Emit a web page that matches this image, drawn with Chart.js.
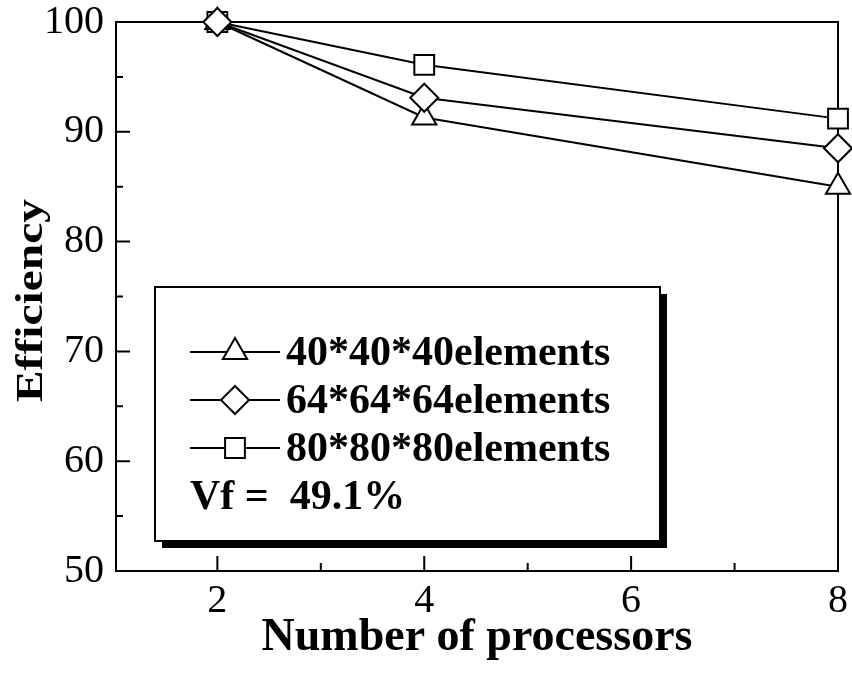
<!DOCTYPE html>
<html>
<head>
<meta charset="utf-8">
<script src="https://cdn.jsdelivr.net/npm/chart.js@4.4.1/dist/chart.umd.min.js"></script>
<style>
  html, body { margin: 0; padding: 0; background: #fff; }
  #wrap { width: 852px; height: 679px; }
</style>
</head>
<body>
<div id="wrap"><canvas id="effChart" width="852" height="679"></canvas></div>
<script>
// Parallel efficiency (%) per mesh size
const processors = [2, 4, 8];
const eff40 = [100, 91.3, 85.0];
const eff64 = [100, 93.1, 88.5];
const eff80 = [100, 96.1, 91.2];
const seriesLabels = ["40*40*40elements", "64*64*64elements", "80*80*80elements"];
const seriesStyles = ["triangle", "rectRot", "rect"];
const noteText = "Vf =  49.1%";
const yTitle = "Efficiency";
const xTitle = "Number of processors";

// Axis ticks
const xTicks = [2, 4, 6, 8];
const xMinorTicks = [3, 5, 7];
const yTicks = [50, 60, 70, 80, 90, 100];
const yMinorTicks = [55, 65, 75, 85, 95];

const SERIF = "'Liberation Serif', 'Times New Roman', serif";

function toPoints(ys) {
    return processors.map((p, i) => ({ x: p, y: ys[i] }));
}

function makeDataset(label, ys, style, order) {
    return {
        label: label,
        data: toPoints(ys),
        borderColor: "#000",
        borderWidth: 2,
        backgroundColor: "#fff",
        pointStyle: style,
        pointRadius: 14,
        pointBorderWidth: 2,
        pointBackgroundColor: "#fff",
        pointBorderColor: "#000",
        tension: 0,
        clip: false,
        order: order
    };
}

// Box around the plot plus inward tick marks
const frameTicks = {
    id: "frameTicks",
    beforeDatasetsDraw(chart) {
        const { ctx, chartArea: a, scales } = chart;
        ctx.save();
        ctx.strokeStyle = "#000";
        ctx.lineWidth = 2;
        ctx.strokeRect(a.left, a.top, a.right - a.left, a.bottom - a.top);
        ctx.beginPath();
        yTicks.forEach(v => {
            const y = scales.y.getPixelForValue(v);
            ctx.moveTo(a.left, y); ctx.lineTo(a.left + 14, y);
        });
        yMinorTicks.forEach(v => {
            const y = scales.y.getPixelForValue(v);
            ctx.moveTo(a.left, y); ctx.lineTo(a.left + 7, y);
        });
        xTicks.slice(0, 3).forEach(v => {
            const x = scales.x.getPixelForValue(v);
            ctx.moveTo(x, a.bottom); ctx.lineTo(x, a.bottom - 15);
        });
        xMinorTicks.forEach(v => {
            const x = scales.x.getPixelForValue(v);
            ctx.moveTo(x, a.bottom); ctx.lineTo(x, a.bottom - 8);
        });
        ctx.stroke();

        // vertical axis title, set a little tall
        const midY = (a.top + a.bottom) / 2 + 4;
        ctx.translate(32, midY);
        ctx.rotate(-Math.PI / 2);
        ctx.scale(1.25, 1);
        ctx.font = "bold 38px " + SERIF;
        ctx.fillStyle = "#000";
        ctx.textAlign = "center";
        ctx.textBaseline = "middle";
        ctx.fillText(yTitle, 0, 0);
        ctx.restore();
    }
};

// Legend box with a drop shadow, drawn inside the plot
const boxLegend = {
    id: "boxLegend",
    afterDraw(chart) {
        const { ctx } = chart;
        const box = { x: 155, y: 287, w: 505, h: 254 };
        ctx.save();
        ctx.fillStyle = "#000";
        ctx.fillRect(box.x + 7, box.y + 7, box.w, box.h);
        ctx.fillStyle = "#fff";
        ctx.fillRect(box.x, box.y, box.w, box.h);
        ctx.strokeStyle = "#000";
        ctx.lineWidth = 2;
        ctx.strokeRect(box.x, box.y, box.w, box.h);

        ctx.font = "bold 42px " + SERIF;
        ctx.textBaseline = "middle";
        ctx.textAlign = "left";
        const rowY = [352, 400, 448];
        const sets = chart.data.datasets;
        seriesLabels.forEach((label, i) => {
            const ds = sets[i];
            const y = rowY[i];
            ctx.beginPath();
            ctx.moveTo(190, y); ctx.lineTo(280, y);
            ctx.strokeStyle = "#000";
            ctx.lineWidth = 2;
            ctx.stroke();
            ctx.fillStyle = "#fff";
            Chart.helpers.drawPoint(ctx, {
                pointStyle: ds.pointStyle,
                radius: ds.pointRadius,
                rotation: 0,
                borderWidth: 2
            }, 235, y);
            ctx.fillStyle = "#000";
            ctx.fillText(label, 286, y + 2);
        });
        ctx.fillStyle = "#000";
        ctx.fillText(noteText, 190, 498);
        ctx.restore();
    }
};

new Chart(document.getElementById("effChart"), {
    type: "line",
    data: {
        datasets: [
            makeDataset(seriesLabels[0], eff40, seriesStyles[0], 1),
            makeDataset(seriesLabels[1], eff64, seriesStyles[1], 0),
            makeDataset(seriesLabels[2], eff80, seriesStyles[2], 2)
        ]
    },
    options: {
        responsive: false,
        animation: false,
        devicePixelRatio: 1,
        layout: { autoPadding: false, padding: { top: 22, right: 14, left: 0, bottom: 0 } },
        plugins: {
            legend: { display: false },
            tooltip: { enabled: false }
        },
        scales: {
            x: {
                type: "linear",
                min: 1.02,
                max: 8,
                afterBuildTicks: s => { s.ticks = xTicks.map(v => ({ value: v })); },
                afterFit: s => {
                    s.height = 108;
                    s.paddingLeft = 0;
                    s.paddingRight = 0;
                },
                grid: { display: false, drawTicks: false },
                border: { display: false },
                ticks: {
                    color: "#000",
                    padding: 10,
                    font: { family: SERIF, size: 40, lineHeight: 1 },
                    maxRotation: 0
                },
                title: {
                    display: true,
                    text: xTitle,
                    color: "#000",
                    font: { family: SERIF, size: 46, weight: "bold", lineHeight: 1 },
                    padding: { top: 0, bottom: 18 }
                }
            },
            y: {
                min: 50,
                max: 100,
                afterBuildTicks: s => { s.ticks = yTicks.map(v => ({ value: v })); },
                afterFit: s => {
                    s.width = 116;
                    s.paddingTop = 0;
                    s.paddingBottom = 0;
                },
                grid: { display: false, drawTicks: false },
                border: { display: false },
                ticks: {
                    color: "#000",
                    padding: 12,
                    font: { family: SERIF, size: 40, lineHeight: 1 }
                },
                title: { display: false }
            }
        }
    },
    plugins: [frameTicks, boxLegend]
});
</script>
</body>
</html>
